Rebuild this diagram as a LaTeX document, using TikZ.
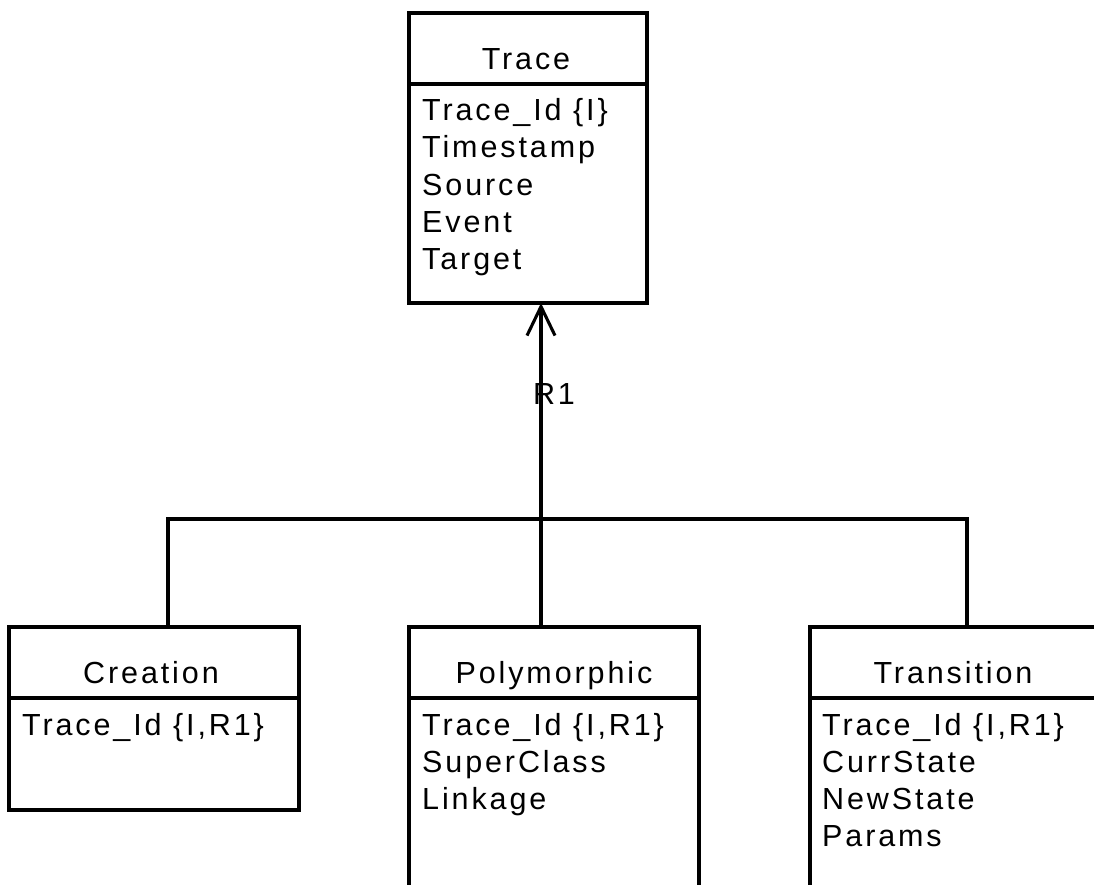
\documentclass[tikz,border=0pt]{standalone}
\usepackage{fontspec}
\setmainfont{Liberation Sans}[LetterSpace=9.5]
\usetikzlibrary{arrows.meta}
\tikzset{
  classbox/.style={draw, line width=3.1pt, rectangle, inner sep=0pt, outer sep=0pt, anchor=north west},
  sep/.style={line width=3.1pt},
  conn/.style={line width=3.1pt},
  hdr/.style={anchor=base, inner sep=0pt, font=\fontsize{30.5}{37}\selectfont},
  attr/.style={anchor=base west, inner sep=0pt, font=\fontsize{30.5}{37}\selectfont},
  lbl/.style={inner sep=0pt, font=\fontsize{30.5}{37}\selectfont},
  gen/.style={-{Straight Barb[length=29pt,width=28pt,line width=3.1pt]}}
}
\begin{document}
\begin{tikzpicture}[x=1pt,y=-1pt]
\useasboundingbox (0,0) rectangle (1094,884);
\clip (0,0) rectangle (1094,884);
% Trace
\node[classbox, minimum width=238pt, minimum height=290pt] (trace) at (409,13) {};
\draw[sep] (409,84) -- (647,84);
\node[hdr] (traceH) at (526,69) {Trace};
\node[attr] (t1) at (422,120) {Trace\_Id \{I\}};
\node[attr] (t2) at (422,157) {Timestamp};
\node[attr] (t3) at (422,195) {Source};
\node[attr] (t4) at (422,232) {Event};
\node[attr] (t5) at (422,269) {Target};
% Creation
\node[classbox, minimum width=290pt, minimum height=183pt] (creation) at (9,627) {};
\draw[sep] (9,698) -- (299,698);
\node[hdr] (creationH) at (151,683) {Creation};
\node[attr] (c1) at (22,735) {Trace\_Id \{I,R1\}};
% Polymorphic
\node[classbox, minimum width=290pt, minimum height=300pt] (poly) at (409,627) {};
\draw[sep] (409,698) -- (699,698);
\node[hdr] (polyH) at (554,683) {Polymorphic};
\node[attr] (p1) at (422,735) {Trace\_Id \{I,R1\}};
\node[attr] (p2) at (422,772) {SuperClass};
\node[attr] (p3) at (422,809) {Linkage};
% Transition
\node[classbox, minimum width=287pt, minimum height=300pt] (trans) at (810,627) {};
\draw[sep] (810,698) -- (1097,698);
\node[hdr] (transH) at (953,683) {Transition};
\node[attr] (r1) at (822,735) {Trace\_Id \{I,R1\}};
\node[attr] (r2) at (822,772) {CurrState};
\node[attr] (r3) at (822,809) {NewState};
\node[attr] (r4) at (822,846) {Params};
% connectors
\coordinate (hubL) at (168,519);
\coordinate (hubC) at (541,519);
\coordinate (hubR) at (967,519);
\draw[conn] (creation.north -| hubL) -- (hubL) -- (hubR) -- (trans.north -| hubR);
\draw[conn, gen] (poly.north -| hubC) -- (trace.south -| hubC);
\node[lbl] (R1) at (554,394) {R1};
\end{tikzpicture}
\end{document}
